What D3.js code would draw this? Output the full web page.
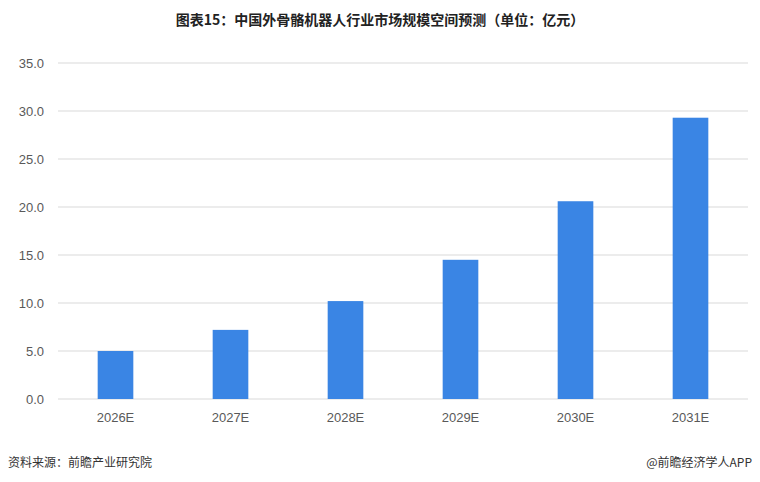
<!DOCTYPE html>
<html><head><meta charset="utf-8">
<script src="https://cdn.jsdelivr.net/npm/d3@7"></script>
<style>body{margin:0;background:#fff;font-family:"Noto Sans CJK SC","Noto Sans",sans-serif;}</style>
</head><body><svg id="chart"></svg>
<script>
const categories = ['2026E', '2027E', '2028E', '2029E', '2030E', '2031E'];
const values = [5.0, 7.2, 10.2, 14.5, 20.6, 29.3];
const yTicks = [0, 5, 10, 15, 20, 25, 30, 35];

const width = 760, height = 482;
const margin = { top: 63, right: 12, bottom: 83, left: 58 };
const svg = d3.select('#chart').attr('width', width).attr('height', height);
const chartWidth = width - margin.left - margin.right;
const chartHeight = height - margin.top - margin.bottom;

const x = d3.scaleBand().domain(categories).range([0, chartWidth]).paddingInner(0.69).paddingOuter(0.345);
const y = d3.scaleLinear().domain([0, 35]).range([chartHeight, 0]);

svg.append('text').attr('x', width / 2).attr('y', 25).attr('text-anchor', 'middle')
  .style('font-size', '14px').style('font-weight', 'bold').attr('fill', '#222')
  .text('图表15：中国外骨骼机器人行业市场规模空间预测（单位：亿元）');

const g = svg.append('g').attr('transform', `translate(${margin.left},${margin.top})`);

// Gridlines
g.selectAll('.grid').data(yTicks).enter().append('line')
  .attr('x1', 0).attr('x2', chartWidth)
  .attr('y1', d => y(d)).attr('y2', d => y(d))
  .attr('stroke', '#d9d9d9').attr('stroke-width', 1);

// Y axis labels
g.append('g').call(d3.axisLeft(y).tickValues(yTicks).tickFormat(d3.format('.1f')).tickSize(0).tickPadding(14))
  .call(a => a.select('.domain').remove())
  .selectAll('text').style('font-size', '13px').attr('fill', '#595959').style('font-family', 'Liberation Sans, Arial');

// Bars
g.selectAll('.bar').data(values).enter().append('rect')
  .attr('x', (d, i) => x(categories[i]))
  .attr('y', d => y(d))
  .attr('width', x.bandwidth())
  .attr('height', d => chartHeight - y(d))
  .attr('fill', '#3a85e4');

// X axis
g.append('g').attr('transform', `translate(0,${chartHeight})`)
  .call(d3.axisBottom(x).tickSize(0).tickPadding(14))
  .call(a => a.select('.domain').remove())
  .selectAll('text').style('font-size', '13px').attr('fill', '#595959').style('font-family', 'Liberation Sans, Arial');

svg.append('text').attr('x', 8).attr('y', 467).style('font-size', '12px').attr('fill', '#333').text('资料来源：前瞻产业研究院');
svg.append('text').attr('x', 752).attr('y', 467).attr('text-anchor', 'end').style('font-size', '12px').attr('fill', '#333').text('@前瞻经济学人APP');
</script></body></html>
